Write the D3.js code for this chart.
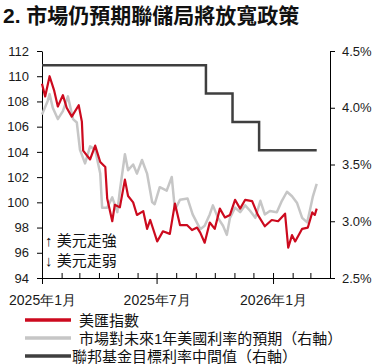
<!DOCTYPE html>
<html lang="zh-Hant">
<head>
<meta charset="UTF-8">
<script src="https://cdnjs.cloudflare.com/ajax/libs/d3/7.9.0/d3.min.js"></script>
<title>市場仍預期聯儲局將放寬政策</title>
<style>
    body {
        margin: 0;
        background: #fff;
        font-family: "Liberation Sans", "Noto Sans CJK TC", sans-serif;
    }
    svg { display: block; }
    .axis text { font-size: 13px; fill: #1a1a1a; }
    .axis path, .axis line { stroke: #000; }
</style>
</head>
<body>
<div id="chart"></div>
<script>
// US dollar index (left axis)
const dxyDates = ["2025-01-01","2025-01-06","2025-01-13","2025-01-20","2025-01-26","2025-02-03","2025-02-09",
    "2025-02-17","2025-02-28","2025-03-05","2025-03-07","2025-03-18","2025-03-26","2025-04-03","2025-04-11",
    "2025-04-14","2025-04-22","2025-04-26","2025-05-04","2025-05-12","2025-05-17","2025-05-25","2025-05-31",
    "2025-06-10","2025-06-16","2025-06-21","2025-07-02","2025-07-11","2025-07-22","2025-07-30","2025-08-07",
    "2025-08-18","2025-08-26","2025-09-03","2025-09-08","2025-09-15","2025-09-23","2025-10-01","2025-10-09",
    "2025-10-17","2025-10-25","2025-11-02","2025-11-10","2025-11-18","2025-11-29","2025-12-08","2025-12-19",
    "2025-12-30","2026-01-09","2026-01-20","2026-01-25","2026-01-31","2026-02-05","2026-02-16","2026-02-25",
    "2026-03-04","2026-03-08","2026-03-11"];
const dxyValues = [109.4,108.4,110.0,108.9,107.6,108.5,107.5,
    106.8,107.7,106.4,104.1,103.4,104.5,103.2,102.8,
    100.3,98.5,99.8,99.6,101.8,100.5,100.0,99.0,
    99.3,97.9,98.6,96.9,97.7,97.5,99.9,98.2,
    98.2,97.8,98.0,97.6,96.8,98.4,97.9,99.5,
    98.8,99.0,100.2,99.5,100.2,100.1,99.0,98.1,
    98.6,98.5,99.1,96.4,97.4,96.9,97.9,98.0,
    99.2,99.0,99.5];

// market-implied 1y rate expectation (right axis, %)
const rateDates = ["2025-01-01","2025-01-10","2025-01-13","2025-01-18","2025-01-26","2025-02-03","2025-02-11",
    "2025-02-19","2025-02-25","2025-03-02","2025-03-10","2025-03-18","2025-03-26","2025-04-03","2025-04-06",
    "2025-04-14","2025-04-22","2025-04-30","2025-05-04","2025-05-12","2025-05-17","2025-05-25","2025-05-31",
    "2025-06-08","2025-06-16","2025-06-24","2025-06-28","2025-07-06","2025-07-17","2025-07-25","2025-07-30",
    "2025-08-07","2025-08-19","2025-08-27","2025-09-08","2025-09-15","2025-09-23","2025-09-28","2025-10-06",
    "2025-10-14","2025-10-20","2025-10-25","2025-11-02","2025-11-10","2025-11-18","2025-11-26","2025-12-04",
    "2025-12-12","2025-12-19","2025-12-27","2026-01-07","2026-01-15","2026-01-23","2026-01-31","2026-02-08",
    "2026-02-16","2026-02-24","2026-02-28","2026-03-05","2026-03-11"];
const rateValues = [3.94,4.06,4.12,4.00,3.90,3.97,4.10,
    3.90,3.87,3.63,3.51,3.66,3.63,3.42,3.12,
    3.12,3.21,3.08,3.27,3.59,3.45,3.50,3.42,
    3.54,3.42,3.17,3.15,3.30,3.27,3.39,3.10,
    3.19,3.20,3.06,2.93,2.96,3.06,3.14,3.03,
    2.96,2.88,3.03,3.12,3.08,3.14,3.09,3.03,
    3.18,3.06,3.09,3.08,3.18,3.26,3.22,3.16,
    3.03,2.99,3.09,3.22,3.33];

// fed funds target range midpoint (right axis, %)
const fedDates = ["2025-01-01","2025-09-17","2025-10-29","2025-12-10","2026-03-11"];
const fedValues = [4.375,4.125,3.875,3.625,3.625];

const leftTicks = [94,96,98,100,102,104,106,108,110,112];
const rightTicks = [2.5,3.0,3.5,4.0,4.5];
const xTickDates = ["2025-01-01","2025-07-01","2026-01-01"];
const xTickLabels = ["2025年1月","2025年7月","2026年1月"];

const seriesNames = ["美匯指數","市場對未來1年美國利率的預期（右軸）","聯邦基金目標利率中間值（右軸）"];
const seriesColors = ["#cc0a1e","#c6c6c6","#3f3f3f"];

const width = 379, height = 364;
const parse = d3.timeParse("%Y-%m-%d");

const svg = d3.select("#chart").append("svg")
    .attr("width", width)
    .attr("height", height);

svg.append("text")
    .attr("x", 3).attr("y", 23)
    .attr("font-size", "21px")
    .attr("font-weight", "bold")
    .attr("fill", "#111")
    .text("2. 市場仍預期聯儲局將放寬政策");

const x = d3.scaleTime()
    .domain([parse("2025-01-01"), parse("2026-04-01")])
    .range([42, 330]);
const yL = d3.scaleLinear().domain([94, 112]).range([278, 51]);
const yR = d3.scaleLinear().domain([2.5, 4.5]).range([278, 51]);

// axes
svg.append("g").attr("class", "axis")
    .attr("transform", "translate(42,0)")
    .call(d3.axisLeft(yL).tickValues(leftTicks).tickSize(5).tickSizeOuter(0).tickPadding(8).tickFormat(d3.format("d")));

svg.append("g").attr("class", "axis")
    .attr("transform", "translate(330,0)")
    .call(d3.axisRight(yR).tickValues(rightTicks).tickSize(5).tickSizeOuter(0).tickPadding(7).tickFormat(d => d.toFixed(1) + "%"));

svg.append("g").attr("class", "axis")
    .attr("transform", "translate(0,278)")
    .call(d3.axisBottom(x).ticks(d3.timeMonth.every(1)).tickSize(-5).tickSizeOuter(0).tickFormat(""));

const major = svg.append("g").attr("class", "axis")
    .attr("transform", "translate(0,278)")
    .call(d3.axisBottom(x).tickValues(xTickDates.map(parse)).tickSize(6).tickPadding(11)
        .tickFormat((d, i) => xTickLabels[i]));
major.select(".domain").remove();
major.selectAll("text").style("font-size", "14px");

// lines
const rateLine = d3.line().x((d, i) => x(parse(rateDates[i]))).y(d => yR(d));
const dxyLine = d3.line().x((d, i) => x(parse(dxyDates[i]))).y(d => yL(d));
const fedLine = d3.line().x((d, i) => x(parse(fedDates[i]))).y(d => yR(d)).curve(d3.curveStepAfter);

svg.append("path").datum(rateValues)
    .attr("d", rateLine).attr("fill", "none")
    .attr("stroke", seriesColors[1]).attr("stroke-width", 2.5).attr("stroke-linejoin", "round");
svg.append("path").datum(dxyValues)
    .attr("d", dxyLine).attr("fill", "none")
    .attr("stroke", seriesColors[0]).attr("stroke-width", 2.2).attr("stroke-linejoin", "round");
svg.append("path").datum(fedValues)
    .attr("d", fedLine).attr("fill", "none")
    .attr("stroke", seriesColors[2]).attr("stroke-width", 2.5);

// annotation
svg.append("text").attr("x", 45).attr("y", 246).attr("font-size", "15px").attr("fill", "#111").text("↑ 美元走強");
svg.append("text").attr("x", 45).attr("y", 266).attr("font-size", "15px").attr("fill", "#111").text("↓ 美元走弱");

// legend
const legendY = [320, 338, 356];
const legendTextX = [79, 79, 72];
seriesNames.forEach((name, i) => {
    svg.append("line")
        .attr("x1", 25).attr("x2", 71)
        .attr("y1", legendY[i]).attr("y2", legendY[i])
        .attr("stroke", seriesColors[i]).attr("stroke-width", 3.5);
    svg.append("text")
        .attr("x", legendTextX[i]).attr("y", legendY[i] + 6)
        .attr("font-size", "15px").attr("fill", "#111")
        .text(name);
});
</script>
</body>
</html>
